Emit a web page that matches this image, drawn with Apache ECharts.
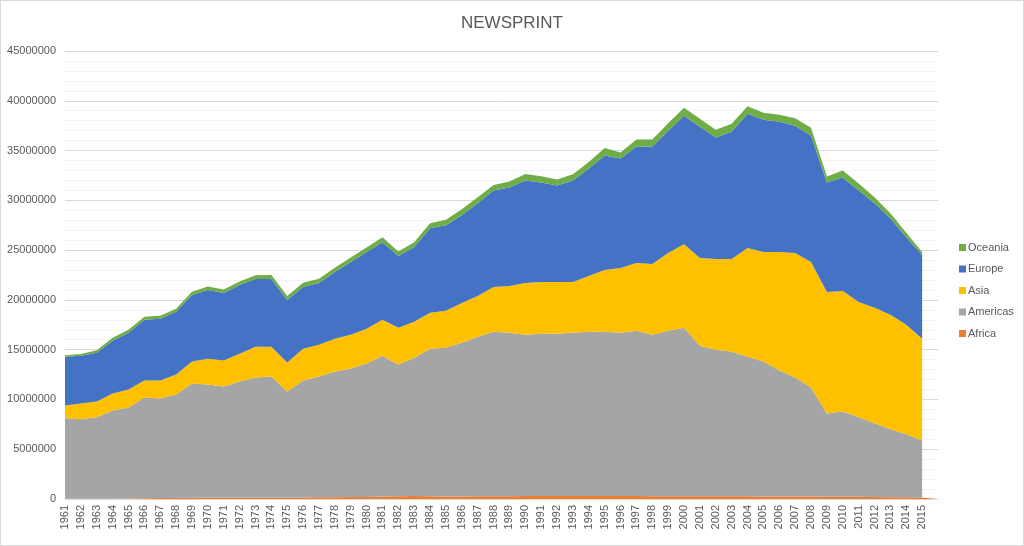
<!DOCTYPE html>
<html>
<head>
<meta charset="utf-8">
<title>Newsprint</title>
<script src="https://cdn.jsdelivr.net/npm/echarts@6/dist/echarts.min.js"></script>
<style>
  html, body { margin: 0; padding: 0; background: #fff; }
  #chart { width: 1024px; height: 546px; box-sizing: border-box; border: 1px solid #d9d9d9; }
</style>
</head>
<body>
<div id="chart"></div>
<script>
// years on the category axis (last slot is the blank one Excel leaves after 2015)
var years = [];
for (var y = 1961; y <= 2015; y++) years.push(String(y));
years.push('');

var africa = [
  20000, 20000, 30000, 30000, 40000, 70000, 90000, 120000, 130000, 140000,
  140000, 150000, 150000, 160000, 150000, 160000, 170000, 180000, 190000, 200000,
  240000, 280000, 300000, 270000, 260000, 260000, 270000, 280000, 280000, 290000,
  300000, 300000, 300000, 300000, 310000, 300000, 290000, 280000, 280000, 280000,
  270000, 270000, 270000, 270000, 260000, 250000, 240000, 240000, 230000, 230000,
  220000, 200000, 180000, 170000, 160000, 0
];
var americas = [
  8080000, 7980000, 8170000, 8870000, 9160000, 10130000, 10010000, 10380000, 11470000, 11360000,
  11160000, 11650000, 12050000, 12140000, 10650000, 11740000, 12130000, 12620000, 12910000, 13400000,
  14160000, 13220000, 13900000, 14830000, 14940000, 15440000, 16030000, 16520000, 16420000, 16210000,
  16300000, 16300000, 16400000, 16500000, 16490000, 16400000, 16610000, 16220000, 16620000, 16920000,
  15130000, 14730000, 14530000, 14030000, 13540000, 12650000, 11960000, 10960000, 8370000, 8570000,
  7980000, 7400000, 6820000, 6330000, 5740000, null
];
var asia = [
  1300000, 1600000, 1600000, 1700000, 1800000, 1700000, 1800000, 2000000, 2200000, 2600000,
  2600000, 2800000, 3100000, 3000000, 2900000, 3200000, 3200000, 3300000, 3400000, 3500000,
  3600000, 3700000, 3600000, 3600000, 3700000, 4000000, 4100000, 4500000, 4700000, 5200000,
  5200000, 5200000, 5100000, 5600000, 6200000, 6500000, 6800000, 7100000, 7800000, 8400000,
  8800000, 9100000, 9300000, 10900000, 11000000, 11900000, 12500000, 12600000, 12200000, 12100000,
  11600000, 11600000, 11500000, 11000000, 10200000, null
];
var europe = [
  4900000, 4800000, 4900000, 5300000, 5700000, 6100000, 6200000, 6300000, 6700000, 6900000,
  6800000, 6900000, 6800000, 6800000, 6300000, 6200000, 6200000, 6700000, 7300000, 7700000,
  7800000, 7200000, 7500000, 8500000, 8600000, 8800000, 9300000, 9700000, 9900000, 10300000,
  10000000, 9700000, 10200000, 10800000, 11500000, 11000000, 11700000, 11800000, 12300000, 12900000,
  13200000, 12200000, 12800000, 13500000, 13300000, 13100000, 12800000, 12700000, 11000000, 11400000,
  11200000, 10500000, 9700000, 8800000, 8400000, null
];
var oceania = [
  150000, 170000, 250000, 300000, 300000, 300000, 300000, 300000, 330000, 350000,
  350000, 350000, 380000, 400000, 400000, 420000, 420000, 430000, 450000, 450000,
  500000, 450000, 480000, 500000, 550000, 600000, 600000, 550000, 600000, 650000,
  630000, 600000, 620000, 650000, 750000, 600000, 700000, 700000, 750000, 800000,
  800000, 800000, 800000, 750000, 700000, 700000, 750000, 800000, 600000, 700000,
  700000, 600000, 500000, 450000, 300000, null
];

var names = ['Africa', 'Americas', 'Asia', 'Europe', 'Oceania'];
var colors = ['#ED7D31', '#A5A5A5', '#FFC000', '#4472C4', '#70AD47'];
var values = [africa, americas, asia, europe, oceania];

var myChart = echarts.init(document.getElementById('chart'));

var series = names.map(function (name, i) {
  return {
    name: name,
    type: 'line',
    stack: 'total',
    data: values[i],
    symbol: 'none',
    lineStyle: { width: 0 },
    areaStyle: { color: colors[i], opacity: 1 },
    itemStyle: { color: colors[i] }
  };
});

myChart.setOption({
  animation: false,
  title: {
    text: 'NEWSPRINT',
    left: 'center',
    top: 9,
    textStyle: { fontFamily: 'Liberation Sans', fontSize: 17, fontWeight: 'normal', color: '#595959' }
  },
  legend: {
    orient: 'vertical',
    left: 953,
    top: 236,
    itemWidth: 7,
    itemHeight: 7,
    itemGap: 10.5,
    icon: 'rect',
    data: names.slice().reverse(),
    textStyle: { fontFamily: 'Liberation Sans', fontSize: 11, color: '#595959', padding: [0, 0, 0, -3] }
  },
  grid: { left: 64, right: 85, top: 50, bottom: 46 },
  xAxis: {
    type: 'category',
    data: years,
    boundaryGap: false,
    axisLine: { lineStyle: { color: '#d9d9d9' } },
    axisTick: { show: false },
    axisLabel: {
      interval: 0,
      rotate: 90,
      margin: 6,
      fontFamily: 'Liberation Sans',
      fontSize: 11,
      color: '#595959'
    }
  },
  yAxis: {
    type: 'value',
    min: 0,
    max: 45000000,
    interval: 5000000,
    axisLine: { show: false },
    axisTick: { show: false },
    axisLabel: {
      fontFamily: 'Liberation Sans',
      fontSize: 11,
      color: '#595959',
      margin: 9,
      formatter: function (v) { return String(v); }
    },
    splitLine: { lineStyle: { color: '#d9d9d9' } },
    minorTick: { show: false, splitNumber: 5 },
    minorSplitLine: { show: true, lineStyle: { color: '#f2f2f2' } }
  },
  series: series
});
</script>
</body>
</html>
